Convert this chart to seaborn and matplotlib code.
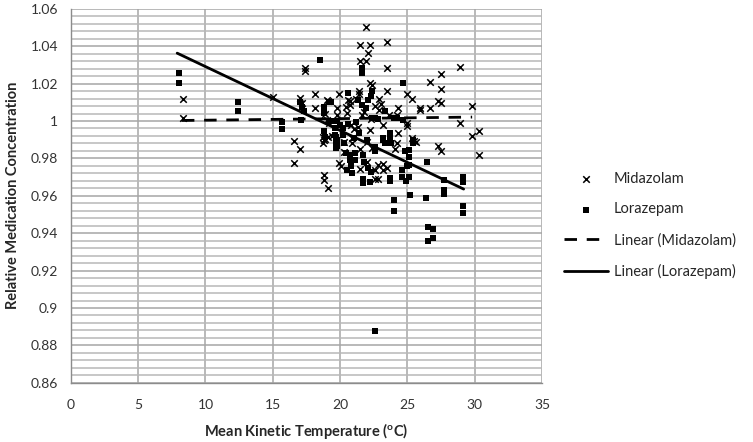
import matplotlib
matplotlib.use("Agg")
import matplotlib.pyplot as plt
import matplotlib.ticker as mticker
import numpy as np
import pandas as pd
import seaborn as sns

# Midazolam readings (mean kinetic temperature, relative concentration)
midazolam_temp = [
    8.3, 8.3, 15.05, 16.6, 17.0, 16.6, 17.4, 17.4, 18.1, 17.0,
    17.15, 18.1, 19.0, 19.1, 19.8, 19.8, 19.0, 19.2, 18.9, 18.8,
    19.1, 18.7, 18.8, 18.8, 19.1, 19.9, 20.1, 19.9, 20.55, 20.7,
    20.4, 21.4, 21.4, 21.9, 21.45, 22.2, 23.5, 22.1, 21.45, 21.9,
    23.5, 22.2, 22.4, 23.5, 22.6, 22.85, 24.3, 24.96, 25.3, 25.95,
    25.95, 26.7, 26.7, 27.5, 27.5, 27.3, 27.5, 28.9, 29.8, 28.9,
    29.8, 30.3, 30.3, 27.3, 27.5, 25.3, 25.6, 25.0, 25.0, 24.3,
    20.5, 21.6, 24.2, 23.2, 22.2, 20.8, 21.3, 21.0, 20.25, 20.25,
    20.9, 20.9, 21.5, 21.5, 22.0, 22.6, 22.8, 23.2, 22.6, 22.0,
    22.4, 24.2, 24.1, 25.5, 23.2, 23.5, 22.8, 20.75, 21.2, 22.9,
    23.0, 21.8, 23.6, 22.3, 18.7, 18.9, 19.4,
]
midazolam_conc = [
    1.0119, 1.0016, 1.0127, 0.9894, 0.9851, 0.9775, 1.0286, 1.0265, 1.0145, 1.0122,
    1.0096, 1.0069, 1.0113, 1.0108, 1.0069, 1.0033, 1.0007, 0.9989, 1.0036, 0.9900,
    0.9917, 0.9882, 0.9709, 0.9686, 0.9641, 0.9775, 0.9762, 1.0145, 1.0113, 1.0087,
    1.0074, 1.0158, 1.0145, 1.0502, 1.0407, 1.0407, 1.0422, 1.0366, 1.0322, 1.0322,
    1.0286, 1.0203, 1.0190, 1.0158, 1.0078, 1.0060, 1.0069, 1.0145, 1.0117, 1.0072,
    1.0060, 1.0069, 1.0211, 1.0249, 1.0171, 1.0108, 1.0096, 1.0291, 1.0081, 0.9987,
    0.9922, 0.9947, 0.9816, 0.9869, 0.9842, 0.9908, 0.9890, 0.9989, 0.9971, 0.9935,
    1.0045, 1.0033, 1.0033, 0.9980, 0.9953, 0.9980, 0.9970, 0.9955, 0.9890, 0.9832,
    0.9910, 0.9880, 0.9850, 0.9745, 0.9780, 0.9740, 0.9765, 0.9740, 0.9692, 0.9890,
    0.9855, 0.9880, 0.9850, 0.9895, 0.9771, 0.9748, 0.9691, 1.0108, 1.0120, 1.0120,
    1.0090, 1.0050, 1.0030, 1.0010, 0.9917, 0.9905, 0.9920,
]

# Lorazepam readings
lorazepam_temp = [
    8.0, 8.0, 12.4, 12.4, 15.7, 15.7, 18.5, 17.0, 17.3, 17.1,
    18.8, 18.8, 19.2, 18.77, 18.9, 19.7, 19.7, 19.7, 19.8, 21.6,
    21.6, 24.7, 20.6, 22.4, 22.3, 22.1, 21.3, 21.6, 21.9, 23.35,
    19.5, 20.0, 20.6, 19.6, 19.6, 19.8, 19.8, 20.2, 20.2, 20.3,
    20.4, 21.1, 21.1, 20.8, 20.9, 20.5, 21.7, 21.8, 21.7, 21.7,
    22.1, 22.3, 23.2, 23.3, 23.7, 23.8, 24.6, 24.6, 25.1, 25.1,
    25.1, 25.1, 23.7, 25.4, 25.4, 26.45, 27.7, 27.7, 27.7, 29.1,
    29.1, 29.1, 29.1, 26.5, 26.9, 26.5, 26.9, 22.6, 24.0, 24.0,
    25.2, 26.4, 22.2, 23.7, 24.9, 20.5, 20.7, 20.7, 22.6, 22.6,
    23.7, 23.7, 24.0, 24.2, 24.7, 22.6, 22.8, 25.0, 24.8, 21.2,
    21.0, 21.4, 22.0, 19.2, 17.2, 19.3, 22.35, 23.2,
]
lorazepam_conc = [
    1.0256, 1.0203, 1.0104, 1.0055, 0.9995, 0.9958, 1.0326, 1.0100, 1.0051, 1.0005,
    1.0074, 1.0042, 1.0104, 0.9944, 0.9917, 0.9917, 0.9882, 0.9855, 1.0000, 1.0283,
    1.0259, 1.0203, 1.0152, 1.0160, 1.0135, 1.0110, 1.0110, 1.0085, 1.0070, 1.0056,
    1.0000, 0.9980, 0.9985, 0.9962, 0.9926, 0.9899, 0.9864, 0.9960, 0.9925, 0.9880,
    0.9830, 0.9830, 0.9790, 0.9760, 0.9720, 0.9740, 0.9820, 0.9780, 0.9690, 0.9670,
    0.9750, 0.9730, 0.9900, 0.9880, 0.9900, 0.9880, 0.9740, 0.9700, 0.9700, 0.9846,
    0.9810, 0.9766, 0.9695, 0.9900, 0.9880, 0.9783, 0.9686, 0.9632, 0.9611, 0.9703,
    0.9676, 0.9547, 0.9507, 0.9433, 0.9424, 0.9356, 0.9374, 0.8878, 0.9579, 0.9521,
    0.9602, 0.9588, 0.9676, 0.9678, 0.9680, 0.9739, 0.9820, 0.9790, 0.9860, 0.9840,
    0.9935, 0.9925, 1.0016, 1.0016, 1.0007, 1.0016, 1.0012, 0.9760, 0.9840, 0.9995,
    0.9910, 0.9935, 0.9900, 1.0000, 1.0077, 1.0104, 1.0016, 0.9908,
]

# linear trend lines, end points
midazolam_fit_temp = [8.25, 29.8]
midazolam_fit_conc = [1.0003, 1.0021]
lorazepam_fit_temp = [7.9, 29.17]
lorazepam_fit_conc = [1.0363, 0.9636]

x_ticks = [0, 5, 10, 15, 20, 25, 30, 35]

sns.set_style("white")
plt.rcParams["font.family"] = ["Lato", "DejaVu Sans"]
plt.rcParams["mathtext.fontset"] = "custom"
plt.rcParams["mathtext.bf"] = "Lato:bold"
plt.rcParams["mathtext.rm"] = "Lato"

mid = pd.DataFrame({"temp": midazolam_temp, "conc": midazolam_conc})
lor = pd.DataFrame({"temp": lorazepam_temp, "conc": lorazepam_conc})

fig, ax = plt.subplots(figsize=(7.53, 4.42), dpi=100)
fig.subplots_adjust(left=0.094, right=0.72, top=0.98, bottom=0.134)

ax.set_xlim(0, 35)
ax.set_ylim(0.86, 1.06)
ax.set_xticks(x_ticks)
ax.yaxis.set_major_locator(mticker.MultipleLocator(0.02))
ax.yaxis.set_minor_locator(mticker.MultipleLocator(0.004))
ax.yaxis.set_major_formatter(mticker.FuncFormatter(lambda v, p: f"{v:.2f}".rstrip("0").rstrip(".")))
ax.grid(True, which="major", axis="both", color="#a6a6a6", linewidth=1.1)
ax.grid(True, which="minor", axis="y", color="#b8b8b8", linewidth=1.1)
ax.set_axisbelow(True)
for s in ["top", "right"]:
    ax.spines[s].set_visible(False)
for s in ["left", "bottom"]:
    ax.spines[s].set_color("#8c8c8c")
    ax.spines[s].set_linewidth(1.0)
ax.tick_params(axis="both", which="major", direction="out", length=4, color="#8c8c8c",
               labelsize=10, labelcolor="#333333")
ax.tick_params(axis="x", pad=8)
ax.tick_params(axis="y", pad=5)
ax.tick_params(axis="y", which="minor", length=0)

sns.scatterplot(data=mid, x="temp", y="conc", marker="x", color="black", s=22,
                linewidth=1.1, ax=ax, label="Midazolam", zorder=3)
sns.scatterplot(data=lor, x="temp", y="conc", marker="s", color="black", s=14,
                linewidth=0, ax=ax, label="Lorazepam", zorder=3)

ax.plot(midazolam_fit_temp, midazolam_fit_conc, color="black", linewidth=2.0,
        dashes=(4.5, 3.5), label="Linear (Midazolam)", zorder=4)
ax.plot(lorazepam_fit_temp, lorazepam_fit_conc, color="black", linewidth=2.0,
        label="Linear (Lorazepam)", zorder=4)

ax.set_xlabel(r"Mean Kinetic Temperature ($\mathbf{^{o}}$C)", fontsize=10.5,
              fontweight="bold", color="#262626", labelpad=7)
ax.set_ylabel("Relative Medication Concentration", fontsize=10.5,
              fontweight="bold", color="#262626", labelpad=8)

handles, labels = ax.get_legend_handles_labels()
ax.legend_.remove()
fig.legend(handles, labels, loc="center left", bbox_to_anchor=(0.738, 0.49),
           frameon=False, fontsize=10.5, handlelength=3.0, labelspacing=1.15,
           handletextpad=0.4, borderaxespad=0.2, markerscale=1.0)

fig.savefig("out.png", dpi=100)
